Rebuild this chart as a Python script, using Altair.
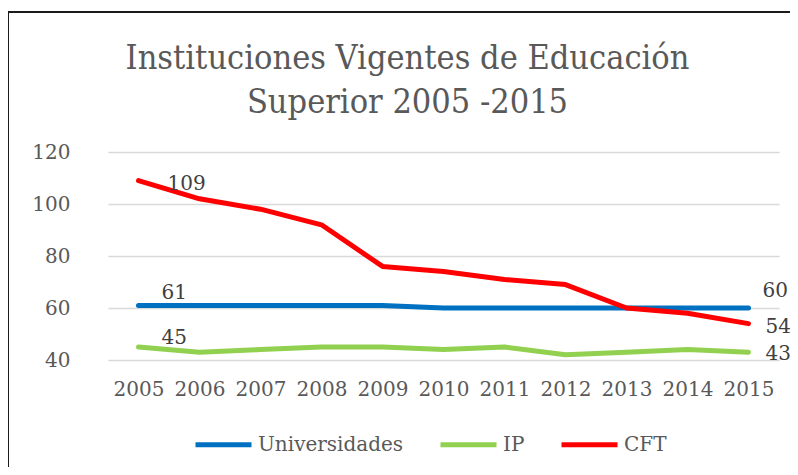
import altair as alt
import pandas as pd

years = ["2005", "2006", "2007", "2008", "2009", "2010", "2011", "2012", "2013", "2014", "2015"]
universidades = [61, 61, 61, 61, 61, 60, 60, 60, 60, 60, 60]
ip = [45, 43, 44, 45, 45, 44, 45, 42, 43, 44, 43]
cft = [109, 102, 98, 92, 76, 74, 71, 69, 60, 58, 54]
series = ["Universidades", "IP", "CFT"]
colors = ["#0070C0", "#92D050", "#FF0000"]
title_lines = ["Instituciones Vigentes de Educación", "Superior 2005 -2015"]

rows = []
for name, vals in zip(series, [universidades, ip, cft]):
    for y, v in zip(years, vals):
        rows.append({"year": y, "value": v, "serie": name})
df = pd.DataFrame(rows)

FONT = "DejaVu Serif"
TXT = "#595959"

x_enc = alt.X("year:N", sort=years, scale=alt.Scale(type="point", padding=0.5),
              axis=alt.Axis(title=None, labelAngle=0, labelFont=FONT, labelFontSize=20,
                            labelColor=TXT, domain=False, ticks=False, grid=False,
                            labelPadding=19))
y_enc = alt.Y("value:Q", scale=alt.Scale(domain=[40, 120], nice=False, zero=False),
              axis=alt.Axis(title=None, values=[40, 60, 80, 100, 120], labelFont=FONT,
                            labelFontSize=20, labelColor=TXT, domain=False, ticks=False,
                            grid=True, gridColor="#d9d9d9", gridWidth=1.5, labelPadding=38))
color_enc = alt.Color("serie:N", scale=alt.Scale(domain=series, range=colors),
                      legend=alt.Legend(title=None, orient="none", legendX=85, legendY=262,
                                        direction="horizontal", symbolType="stroke",
                                        symbolSize=3136, symbolStrokeWidth=5,
                                        labelFont=FONT, labelFontSize=20, labelColor=TXT,
                                        columnPadding=26, labelOffset=4, padding=0))

base = alt.Chart(df)
lines = [
    base.transform_filter(alt.datum.serie == s)
    .mark_line(strokeWidth=5, strokeCap="round", strokeJoin="round")
    .encode(x=x_enc, y=y_enc, color=color_enc)
    for s in series
]

def label(serie, year, dx, dy):
    return (base.transform_filter((alt.datum.serie == serie) & (alt.datum.year == year))
            .mark_text(font=FONT, fontSize=20, color="#404040", align="left",
                       baseline="alphabetic", dx=dx, dy=dy)
            .encode(x=alt.X("year:N", sort=years), y="value:Q", text="value:Q"))

labels = [
    label("CFT", "2005", 29, 9),
    label("Universidades", "2005", 23, -6),
    label("IP", "2005", 23, -3),
    label("Universidades", "2015", 14, -11),
    label("CFT", "2015", 17, 9),
    label("IP", "2015", 17, 8),
]

one = alt.Data(values=[{"k": 1}])
border_top = alt.Chart(one).mark_rule(color="#1a1a1a", strokeWidth=2).encode(
    x=alt.value(-100), x2=alt.value(700), y=alt.value(-140))
border_left = alt.Chart(one).mark_rule(color="#1a1a1a", strokeWidth=2).encode(
    x=alt.value(-100), y=alt.value(-141), y2=alt.value(320))

chart = alt.layer(border_top, border_left, *lines, *labels).properties(
    width=671, height=208,
    title=alt.TitleParams(text=title_lines, font="DejaVu Serif Condensed", fontSize=34,
                          fontWeight="normal", color=TXT, anchor="middle", dx=-36,
                          lineHeight=44, offset=0, dy=110, frame="group"),
    autosize=alt.AutoSizeParams(type="none"),
    padding={"left": 100, "top": 144, "right": 11, "bottom": 107},
).resolve_scale(color="shared").configure_view(stroke=None)

chart.save("out.html", embed_options={"renderer": "svg", "actions": False})
